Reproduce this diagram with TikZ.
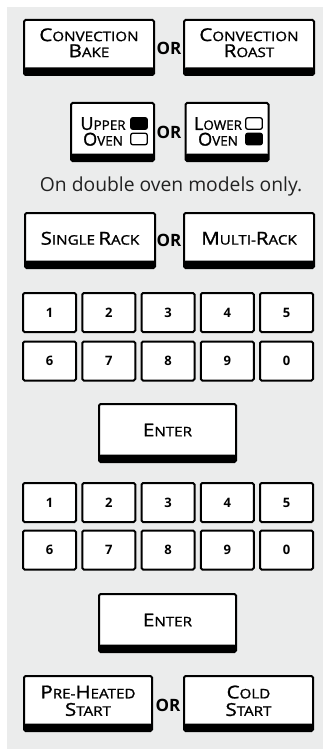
\documentclass[tikz,border=0pt]{standalone}
\usepackage{graphicx}
\usepackage{fontspec}
\setmainfont{Open Sans}
\newfontfamily\btnf[FakeBold=1.2]{Open Sans}
\definecolor{panel}{HTML}{EBECEC}
\definecolor{note}{HTML}{222222}
\newcommand{\SC}[3][1.15]{\scalebox{#1}[1]{{\fontsize{17.8}{17.8}\selectfont #2}{\fontsize{13.2}{13.2}\selectfont #3}}}
\tikzset{
  btn/.style 2 args={draw=black, line width=2pt, fill=white, rounded corners=1.5pt,
    minimum width=#1pt, minimum height=#2pt, inner sep=0pt,
    path picture={\fill[black] ([yshift=-3pt]path picture bounding box.south west)
      rectangle ([yshift=7.5pt]path picture bounding box.south east);}},
  btntext/.style={font=\btnf\fontsize{13.2}{#1}\selectfont, align=center, inner sep=0pt},
  key/.style={draw=black, line width=2pt, fill=white, rounded corners=1.5pt,
    minimum width=53pt, minimum height=39pt, inner sep=0pt,
    font=\bfseries\fontsize{13}{13}\selectfont},
  ortext/.style={font=\bfseries\fontsize{17}{17}\selectfont, inner sep=0pt},
  ind/.style={draw=black, line width=1.3pt, rounded corners=2pt,
    minimum width=16.5pt, minimum height=11.5pt, inner sep=0pt},
}
\begin{document}
\begin{tikzpicture}[x=1pt,y=-1pt]
\useasboundingbox (0,0) rectangle (323,749);
\fill[white] (0,0) rectangle (323,749);
\fill[panel] (7,7) rectangle (323,749);
% row 1
\node[btn={130}{55}] (bake) at (89,47.5) {};
\node[btntext=16] (bakeT) at ([yshift=4.8pt]bake.center) {\SC{C}{ONVECTION}\\\SC{B}{AKE}};
\node[ortext] (or1) at (169,48.5) {OR};
\node[btn={130}{55}] (roast) at (249,47.5) {};
\node[btntext=16] (roastT) at ([yshift=4.8pt]roast.center) {\SC{C}{ONVECTION}\\\SC{R}{OAST}};
% row 2
\node[btn={83}{58}] (upper) at (112.5,132) {};
\node[btntext=15.7] (upperT) at (103,131.5) {\SC[1.02]{U}{PPER}\\\SC[1.02]{O}{VEN}};
\node[ind, fill=black] (upA) at (139,123.5) {};
\node[ind, fill=white] (upB) at (139,139) {};
\node[ortext] (or2) at (169,132) {OR};
\node[btn={83}{58}] (lower) at (227,132) {};
\node[btntext=15.7] (lowerT) at (218,131.5) {\SC[1.02]{L}{OWER}\\\SC[1.02]{O}{VEN}};
\node[ind, fill=white] (loA) at (254,123.5) {};
\node[ind, fill=black] (loB) at (254,139) {};
\node[font=\fontsize{19.3}{20}\selectfont, text=note, inner sep=0pt] (noteT) at (171,186) {On double oven models only.};
% row 3
\node[btn={130}{55}] (single) at (90,240.5) {};
\node[btntext=15] (singleT) at ([yshift=2.2pt]single.center) {\SC{S}{INGLE} \SC{R}{ACK}};
\node[ortext] (or3) at (169,240) {OR};
\node[btn={130}{55}] (multi) at (249,240.5) {};
\node[btntext=15] (multiT) at ([yshift=2.2pt]multi.center) {\SC{M}{ULTI-}\SC{R}{ACK}};
% keypads
\foreach \lab [count=\i] in {1,2,3,4,5,6,7,8,9,0}{
  \pgfmathsetmacro{\col}{mod(\i-1,5)}
  \pgfmathsetmacro{\row}{int((\i-1)/5)}
  \node[key] (ka\i) at (49.5+59.25*\col, 312.5+48.5*\row) {\lab};
  \node[key] (kb\i) at (49.5+59.25*\col, 502.5+47.5*\row) {\lab};
}
\node[btn={137}{58}] (enter1) at (167.5,433) {};
\node[btntext=15] (enter1T) at ([yshift=3pt]enter1.center) {\SC{E}{NTER}};
\node[btn={137}{58}] (enter2) at (167.5,623) {};
\node[btntext=15] (enter2T) at ([yshift=3pt]enter2.center) {\SC{E}{NTER}};
% last row
\node[btn={128}{55}] (pre) at (88,703.5) {};
\node[btntext=17.5] (preT) at ([yshift=2.7pt]pre.center) {\SC{P}{RE-}\SC{H}{EATED}\\\SC{S}{TART}};
\node[ortext] (or4) at (168,705) {OR};
\node[btn={129}{55}] (cold) at (248.5,703.5) {};
\node[btntext=17.5] (coldT) at ([yshift=2.7pt]cold.center) {\SC{C}{OLD}\\\SC{S}{TART}};
\end{tikzpicture}
\end{document}
